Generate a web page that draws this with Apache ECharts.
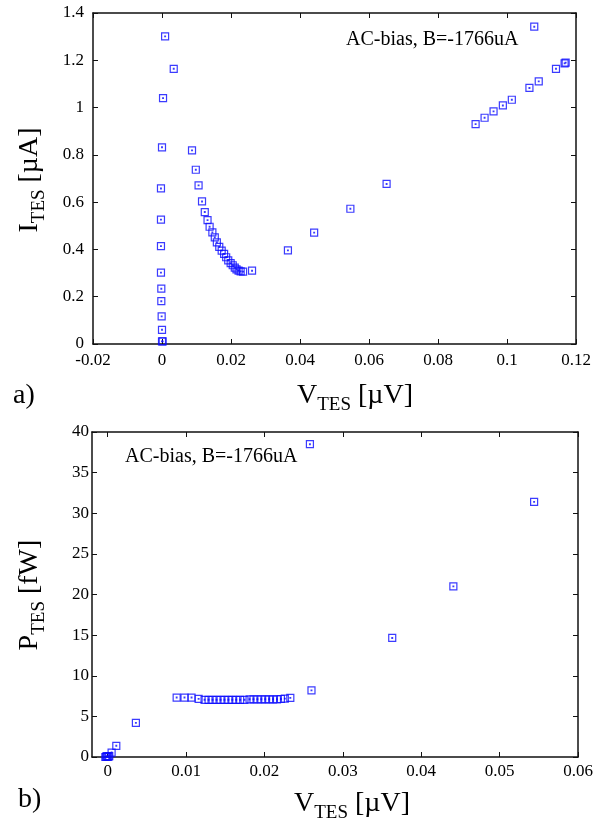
<!DOCTYPE html>
<html>
<head>
<meta charset="utf-8">
<script src="https://cdn.jsdelivr.net/npm/echarts@6/dist/echarts.min.js"></script>
<style>
html,body{margin:0;padding:0;background:#fff;}
#c{width:601px;height:825px;}
</style>
</head>
<body>
<div id="c"></div>
<script>
// ---- Data ----
// Top panel: V_TES [µV] vs I_TES [µA]
const ivVoltage = [
  0.0009, 0.0034, 0.0003, 0.0000, -0.0003, -0.0003, -0.0003, -0.0003, -0.0002, -0.0002, -0.0001, 0.0000, 0.0000, 0.0002,
  0.0087, 0.0098, 0.0106, 0.0116, 0.0124, 0.0132, 0.0138, 0.0146, 0.0153, 0.0159, 0.0166, 0.0173, 0.0180, 0.0186,
  0.0192, 0.0199, 0.0205, 0.0211, 0.0216, 0.0222, 0.0228, 0.0235, 0.0261,
  0.0365, 0.0441, 0.0546, 0.0651, 0.0909, 0.0935, 0.0961, 0.0988, 0.1014, 0.1065, 0.1092, 0.1142, 0.1167, 0.1170, 0.1079
];
const ivCurrent = [
  1.301, 1.164, 1.040, 0.832, 0.658, 0.526, 0.414, 0.302, 0.234, 0.181, 0.117, 0.060, 0.011, 0.011,
  0.819, 0.737, 0.671, 0.603, 0.558, 0.524, 0.496, 0.472, 0.451, 0.430, 0.411, 0.395, 0.381, 0.367,
  0.354, 0.342, 0.333, 0.323, 0.316, 0.310, 0.307, 0.306, 0.310,
  0.396, 0.471, 0.572, 0.677, 0.930, 0.957, 0.984, 1.009, 1.033, 1.083, 1.111, 1.164, 1.187, 1.190, 1.342
];
// Bottom panel: V_TES [µV] vs P_TES [fW]
const pvVoltage = [
  -0.0003, -0.0002, -0.0001, 0.0000, 0.0001, 0.0002, 0.0005, 0.0011, 0.0036,
  0.0088, 0.0098, 0.0107, 0.0116, 0.01236, 0.01287, 0.01338, 0.01389, 0.0144, 0.0149, 0.0154, 0.0159, 0.0164,
  0.0169, 0.01745, 0.0181, 0.0186, 0.0191, 0.0196, 0.0201, 0.0206, 0.0211, 0.0216, 0.0221, 0.0226, 0.0233,
  0.0258, 0.0260, 0.0363, 0.0441, 0.0544
];
const pvPower = [
  0.00, 0.05, 0.10, 0.00, 0.05, 0.10, 0.55, 1.38, 4.20,
  7.32, 7.32, 7.32, 7.16, 7.04, 7.04, 7.04, 7.04, 7.04, 7.04, 7.04, 7.04, 7.04,
  7.04, 7.04, 7.10, 7.10, 7.10, 7.10, 7.10, 7.10, 7.10, 7.10, 7.14, 7.18, 7.28,
  38.5, 8.20, 14.65, 21.0, 31.4
];
// Axis ticks
const topXTicks = [-0.02, 0, 0.02, 0.04, 0.06, 0.08, 0.1, 0.12];
const topYTicks = [0, 0.2, 0.4, 0.6, 0.8, 1, 1.2, 1.4];
const botXTicks = [0, 0.01, 0.02, 0.03, 0.04, 0.05, 0.06];
const botYTicks = [0, 5, 10, 15, 20, 25, 30, 35, 40];
const annotation = 'AC-bias, B=-1766uA';

// ---- Styling ----
const FONT = '"Liberation Serif", "DejaVu Serif", serif';
const BLUE = '#0a0aff';
const symbolPath = 'path://M0,0L10,0L10,10L0,10Z M4.5,4.5L5.5,4.5L5.5,5.5L4.5,5.5Z';
const lineStyle = {color: '#111', width: 1.5};

function mkX(grid, ticks, min, max, pos, showLabels, margin) {
  return {
    type: 'value', gridIndex: grid, position: pos, min: min, max: max,
    splitLine: {show: false},
    axisLine: {show: true, onZero: false, lineStyle: lineStyle},
    axisTick: {show: true, inside: true, length: 5, customValues: ticks, lineStyle: {color: '#111', width: 1}},
    axisLabel: {show: showLabels, customValues: ticks, margin: margin, fontFamily: FONT, fontSize: 17, color: '#000',
      formatter: v => String(Math.round(v * 1e6) / 1e6)},
    minorTick: {show: false}
  };
}
function mkY(grid, ticks, min, max, pos, showLabels, margin) {
  return {
    type: 'value', gridIndex: grid, position: pos, min: min, max: max,
    splitLine: {show: false},
    axisLine: {show: true, onZero: false, lineStyle: lineStyle},
    axisTick: {show: true, inside: true, length: 5, customValues: ticks, lineStyle: {color: '#111', width: 1}},
    axisLabel: {show: showLabels, customValues: ticks, margin: margin, fontFamily: FONT, fontSize: 17, color: '#000',
      formatter: v => String(Math.round(v * 1e6) / 1e6)}
  };
}

const ivData = ivVoltage.map((v, i) => [v, ivCurrent[i]]);
const pvData = pvVoltage.map((v, i) => [v, pvPower[i]]);

const rich = {
  m: {fontFamily: FONT, fontSize: 28, lineHeight: 38, color: '#000'},
  s: {fontFamily: FONT, fontSize: 19, lineHeight: 38, verticalAlign: 'bottom', color: '#000'}
};
function label(x, y, text, rot) {
  return {
    type: 'text', x: x, y: y, rotation: rot || 0,
    style: {text: text, rich: rich, align: 'center', verticalAlign: 'middle', font: '28px ' + FONT}
  };
}

const chart = echarts.init(document.getElementById('c'), null, {renderer: 'canvas'});
chart.setOption({
  backgroundColor: '#fff',
  animation: false,
  grid: [
    {left: 93, top: 13, right: 25, height: 331, outerBoundsMode: 'none'},
    {left: 92, top: 432, right: 23, height: 325, outerBoundsMode: 'none'}
  ],
  xAxis: [
    mkX(0, topXTicks, -0.02, 0.12, 'bottom', true, 8),
    mkX(0, topXTicks, -0.02, 0.12, 'top', false, 8),
    mkX(1, botXTicks, -0.002, 0.06, 'bottom', true, 6),
    mkX(1, botXTicks, -0.002, 0.06, 'top', false, 6)
  ],
  yAxis: [
    mkY(0, topYTicks, 0, 1.4, 'left', true, 9),
    mkY(0, topYTicks, 0, 1.4, 'right', false, 9),
    mkY(1, botYTicks, 0, 40, 'left', true, 3),
    mkY(1, botYTicks, 0, 40, 'right', false, 3)
  ],
  series: [
    {type: 'scatter', xAxisIndex: 0, yAxisIndex: 0, data: ivData, symbol: symbolPath, symbolSize: 7,
     itemStyle: {color: 'rgba(0,0,0,0)', borderColor: BLUE, borderWidth: 1.2}, clip: false},
    {type: 'scatter', xAxisIndex: 2, yAxisIndex: 2, data: pvData, symbol: symbolPath, symbolSize: 7,
     itemStyle: {color: 'rgba(0,0,0,0)', borderColor: BLUE, borderWidth: 1.2}, clip: false}
  ],
  graphic: [
    {type: 'text', x: 346, y: 40, style: {text: annotation, font: '20px ' + FONT, fill: '#000', verticalAlign: 'middle'}},
    {type: 'text', x: 125, y: 457, style: {text: annotation, font: '20px ' + FONT, fill: '#000', verticalAlign: 'middle'}},
    label(30, 180, '{m|I}{s|TES}{m| [µA]}', Math.PI / 2),
    label(30, 595, '{m|P}{s|TES}{m| [fW]}', Math.PI / 2),
    label(355, 396, '{m|V}{s|TES}{m| [µV]}', 0),
    label(352, 804, '{m|V}{s|TES}{m| [µV]}', 0),
    {type: 'text', x: 13, y: 396, style: {text: 'a)', font: '28px ' + FONT, fill: '#000', verticalAlign: 'middle'}},
    {type: 'text', x: 18, y: 800, style: {text: 'b)', font: '28px ' + FONT, fill: '#000', verticalAlign: 'middle'}}
  ]
});
</script>
</body>
</html>
